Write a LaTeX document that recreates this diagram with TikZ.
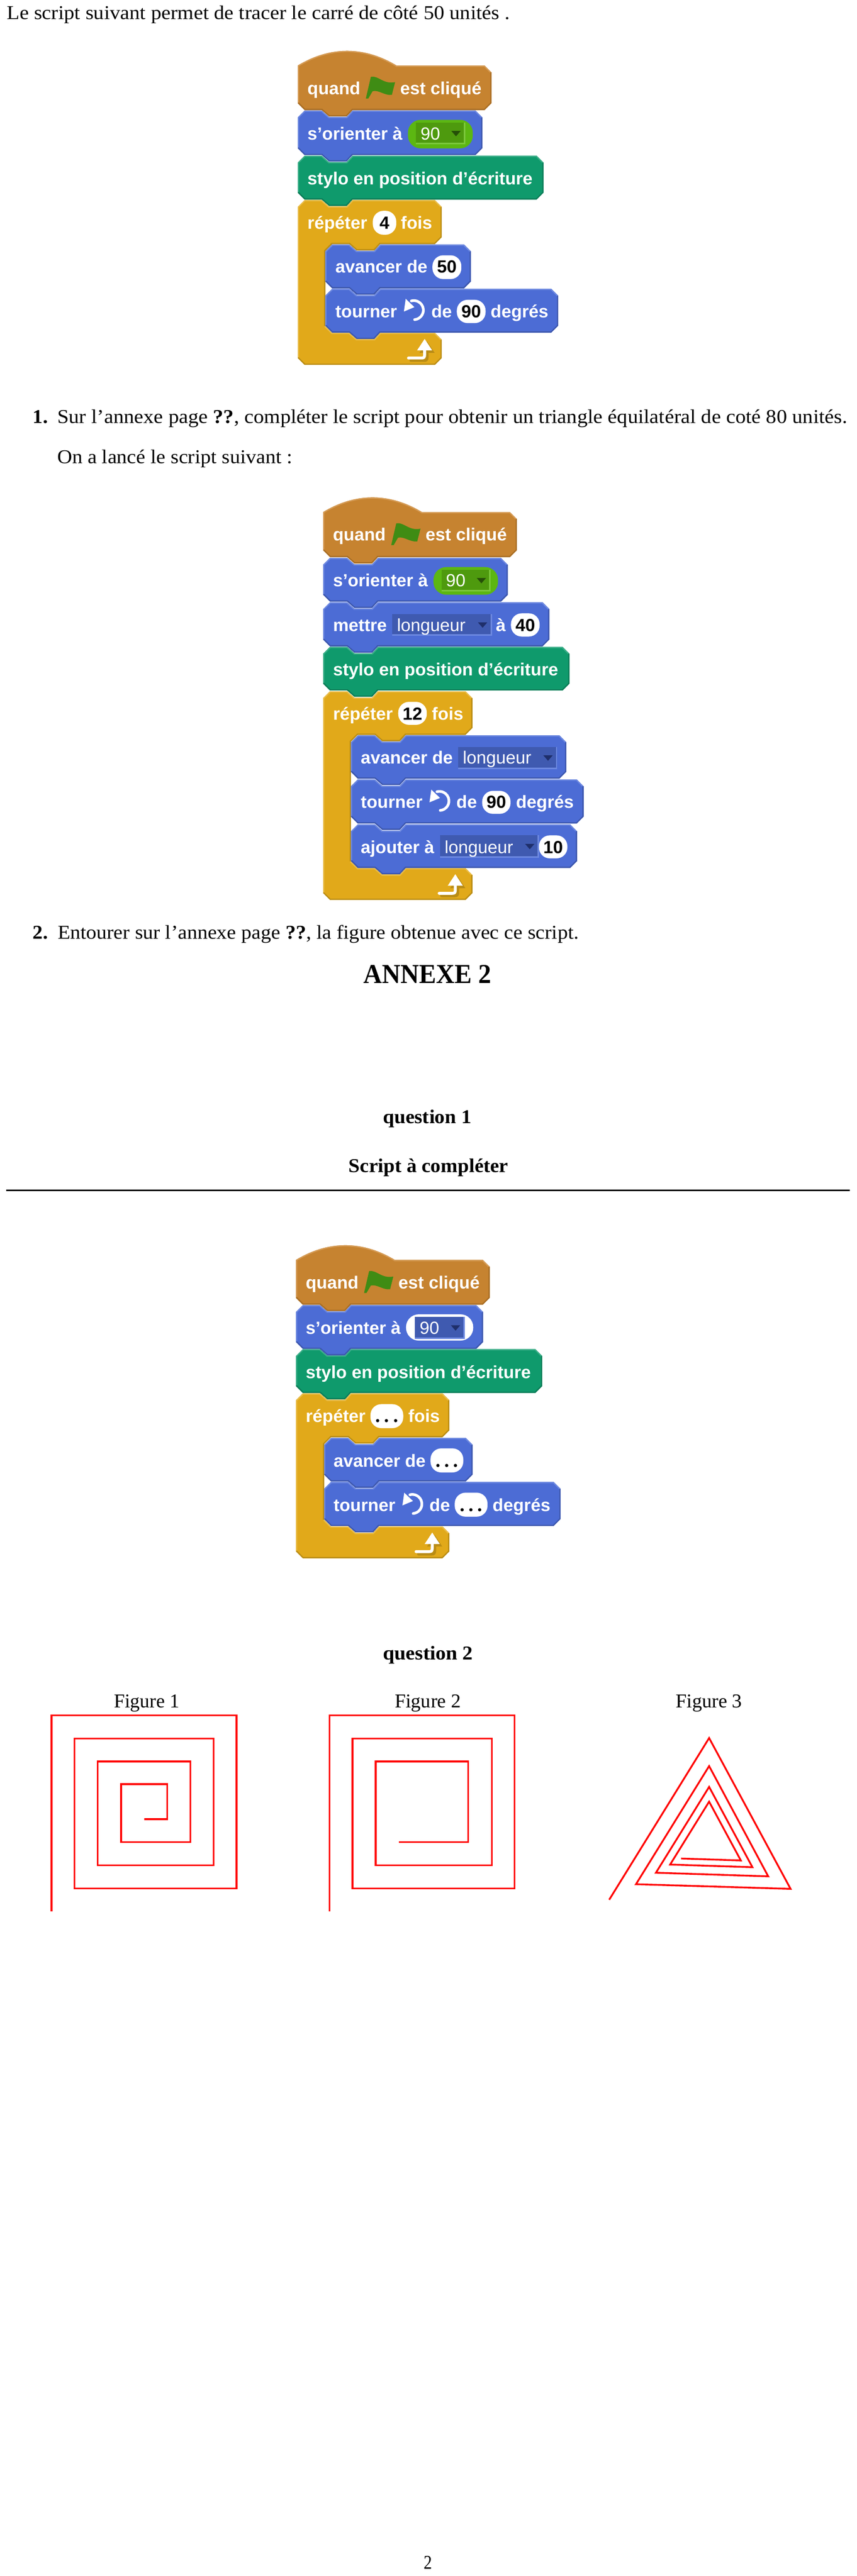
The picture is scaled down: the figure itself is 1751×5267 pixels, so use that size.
\documentclass[tikz,border=0pt]{standalone}
\usepackage{fontspec}
\usepackage{graphicx}
\setmainfont{Liberation Serif}
\newfontfamily\sansf{Liberation Sans}
\definecolor{hatc}{HTML}{C68330}\definecolor{hatl}{HTML}{D59B55}\definecolor{hatd}{HTML}{A86D24}
\definecolor{bluc}{HTML}{4C6CD5}\definecolor{blul}{HTML}{6C88E0}\definecolor{blud}{HTML}{3D57AD}
\definecolor{grnc}{HTML}{0F9A6C}\definecolor{grnl}{HTML}{3BAE88}\definecolor{grnd}{HTML}{0C7C57}
\definecolor{orac}{HTML}{E1A91A}\definecolor{oral}{HTML}{E9BC48}\definecolor{orad}{HTML}{B98C15}
\definecolor{flagc}{HTML}{3F8C14}\definecolor{pilc}{HTML}{5CB712}\definecolor{pill}{HTML}{7CC83C}\definecolor{pind}{HTML}{4E9A0E}
\definecolor{ddb}{HTML}{3F5AB0}\definecolor{tridb}{HTML}{1F2F6B}\definecolor{trigr}{HTML}{264F08}
\newcount\nodec
\tikzset{
  txtnode/.style={anchor=base west,inner sep=0pt,outer sep=0pt},
  ctrnode/.style={anchor=base,inner sep=0pt,outer sep=0pt},
  redline/.style={draw=red,line width=3.6pt,miter limit=10},
}
% page text: x, baseline, width, font size, text
\newcommand\ptxt[5]{\global\advance\nodec by 1
  \node[txtnode] (n\the\nodec) at (#1,#2) {\resizebox{#3pt}{\height}{\fontsize{#4pt}{#4pt}\selectfont #5}};}
% white bold sans text
\newcommand\stx[3]{\global\advance\nodec by 1
  \node[txtnode,text=white] (n\the\nodec) at (#1,#2) {\fontsize{36pt}{36pt}\selectfont\sansf\bfseries #3};}
\newcommand\srg[3]{\global\advance\nodec by 1
  \node[txtnode,text=white] (n\the\nodec) at (#1,#2) {\fontsize{36pt}{36pt}\selectfont\sansf #3};}
\newcommand\inp[6]{% x0,y0,x1,y1,baseline,text
  \fill[white,rounded corners=22pt] (#1,#2) rectangle (#3,#4);
  \global\advance\nodec by 1
  \node[ctrnode,text=black] (n\the\nodec) at ({(#1+#3)/2},#5) {\fontsize{36pt}{36pt}\selectfont\sansf\bfseries #6};}
\newcommand\dotinp[5]{% x0,y0,x1,y1,baseline
  \fill[white,rounded corners=22pt] (#1,#2) rectangle (#3,#4);
  \global\advance\nodec by 1
  \node[ctrnode,text=black] (n\the\nodec) at ({(#1+#3)/2},#5) {\fontsize{40pt}{40pt}\selectfont\bfseries .\hspace{8pt}.\hspace{8pt}.};}
\newcommand\blockpath[4]{(#1,{#2+14}) -- ({#1+14},#2) -- ({#1+49},#2) -- ({#1+64},{#2+13}) -- ({#1+100},{#2+13}) -- ({#1+112},#2) -- ({#3-14},#2) -- (#3,{#2+14}) -- (#3,{#4-14}) -- ({#3-14},#4) -- ({#1+112},#4) -- ({#1+100},{#4+13}) -- ({#1+64},{#4+13}) -- ({#1+49},#4) -- ({#1+14},#4) -- (#1,{#4-14}) -- cycle}
% left,top,right,bottom,prefix colour
\newcommand\sblk[5]{%
  \fill[#5c] \blockpath{#1}{#2}{#3}{#4};
  \begin{scope}
    \clip \blockpath{#1}{#2}{#3}{#4};
    \draw[#5l,line width=5pt] (#1,{#4-14}) -- (#1,{#2+14}) -- ({#1+14},#2) -- ({#1+49},#2) -- ({#1+64},{#2+13}) -- ({#1+100},{#2+13}) -- ({#1+112},#2) -- ({#3-14},#2) -- (#3,{#2+14});
    \draw[#5d,line width=5pt] (#3,{#2+14}) -- (#3,{#4-14}) -- ({#3-14},#4) -- ({#1+112},#4) -- ({#1+100},{#4+13}) -- ({#1+64},{#4+13}) -- ({#1+49},#4) -- ({#1+14},#4) -- (#1,{#4-14});
  \end{scope}}
% hat: left,shoulder,right,bottom
\newcommand\hatpath[4]{(#1,#2) .. controls ({#1+66},{#2-40}) and ({#1+136},{#2-40}) .. ({#1+202},#2) -- ({#3-14},#2) -- (#3,{#2+14}) -- (#3,{#4-14}) -- ({#3-14},#4) -- ({#1+112},#4) -- ({#1+100},{#4+13}) -- ({#1+64},{#4+13}) -- ({#1+49},#4) -- ({#1+14},#4) -- (#1,{#4-14}) -- cycle}
\newcommand\hatb[4]{%
  \fill[hatc] \hatpath{#1}{#2}{#3}{#4};
  \begin{scope}
    \clip \hatpath{#1}{#2}{#3}{#4};
    \draw[hatl,line width=5pt] (#1,{#4-14}) -- (#1,#2) .. controls ({#1+66},{#2-40}) and ({#1+136},{#2-40}) .. ({#1+202},#2) -- ({#3-14},#2) -- (#3,{#2+14});
    \draw[hatd,line width=5pt] (#3,{#2+14}) -- (#3,{#4-14}) -- ({#3-14},#4) -- ({#1+112},#4) -- ({#1+100},{#4+13}) -- ({#1+64},{#4+13}) -- ({#1+49},#4) -- ({#1+14},#4) -- (#1,{#4-14});
  \end{scope}
  \fill[flagc] ({#1+139.2},{#2+67.5}) -- ({#1+149.5},{#2+23}) .. controls ({#1+165},{#2+20}) and ({#1+175},{#2+39}) .. ({#1+199},{#2+34}) -- ({#1+192.4},{#2+60}) .. controls ({#1+178},{#2+62}) and ({#1+165},{#2+49}) .. ({#1+153},{#2+52.5}) -- ({#1+144.2},{#2+67.5}) -- cycle;
  \stx{#1+20}{#2+59}{quand}
  \stx{#1+209.5}{#2+59}{est cliqué}}
% C block: L,IL,R,T,B1,F,B
\newcommand\cpath[7]{(#1,{#4+14}) -- ({#1+14},#4) -- ({#1+49},#4) -- ({#1+64},{#4+13}) -- ({#1+100},{#4+13}) -- ({#1+112},#4) -- ({#3-14},#4) -- (#3,{#4+14}) -- (#3,{#5-14}) -- ({#3-14},#5) -- ({#2+112},#5) -- ({#2+100},{#5+13}) -- ({#2+64},{#5+13}) -- ({#2+49},#5) -- ({#2+14},#5) -- (#2,{#5+14}) -- (#2,{#6-14}) -- ({#2+14},#6) -- ({#2+49},#6) -- ({#2+64},{#6+13}) -- ({#2+100},{#6+13}) -- ({#2+112},#6) -- ({#3-14},#6) -- (#3,{#6+14}) -- (#3,{#7-14}) -- ({#3-14},#7) -- ({#1+14},#7) -- (#1,{#7-14}) -- cycle}
\newcommand\cblk[7]{%
  \fill[orac] \cpath{#1}{#2}{#3}{#4}{#5}{#6}{#7};
  \begin{scope}
    \clip \cpath{#1}{#2}{#3}{#4}{#5}{#6}{#7};
    \draw[oral,line width=5pt] (#1,{#7-14}) -- (#1,{#4+14}) -- ({#1+14},#4) -- ({#1+49},#4) -- ({#1+64},{#4+13}) -- ({#1+100},{#4+13}) -- ({#1+112},#4) -- ({#3-14},#4) -- (#3,{#4+14});
    \draw[orad,line width=5pt] (#3,{#4+14}) -- (#3,{#5-14}) -- ({#3-14},#5) -- ({#2+112},#5) -- ({#2+100},{#5+13}) -- ({#2+64},{#5+13}) -- ({#2+49},#5) -- ({#2+14},#5) -- (#2,{#5+14}) -- (#2,{#6-14});
    \draw[oral,line width=5pt] (#2,{#6-14}) -- ({#2+14},#6) -- ({#2+49},#6) -- ({#2+64},{#6+13}) -- ({#2+100},{#6+13}) -- ({#2+112},#6) -- ({#3-14},#6) -- (#3,{#6+14});
    \draw[orad,line width=5pt] (#3,{#6+14}) -- (#3,{#7-14}) -- ({#3-14},#7) -- ({#1+14},#7) -- (#1,{#7-14});
  \end{scope}
  % loop arrow: shadow then white
  \begin{scope}[shift={(5,5)}]
    \fill[orad] ({#3-35},{#6+12.5}) -- ({#3-19.5},{#6+36}) -- ({#3-50.5},{#6+36}) -- cycle;
    \draw[orad,line width=6pt,line cap=round] ({#3-35},{#6+34}) -- ({#3-35},{#6+45}) .. controls ({#3-35},{#6+50}) and ({#3-37},{#6+51.5}) .. ({#3-41},{#6+51.5}) -- ({#3-68},{#6+51.5});
  \end{scope}
  \fill[white] ({#3-35},{#6+12.5}) -- ({#3-19.5},{#6+36}) -- ({#3-50.5},{#6+36}) -- cycle;
  \draw[white,line width=6pt,line cap=round] ({#3-35},{#6+34}) -- ({#3-35},{#6+45}) .. controls ({#3-35},{#6+50}) and ({#3-37},{#6+51.5}) .. ({#3-41},{#6+51.5}) -- ({#3-68},{#6+51.5});}
% rotate icon: cx, baseline
\newcommand\rico[2]{%
  \draw[white,line width=5.5pt,line cap=round] ({#1+2},{#2+4.5}) arc[start angle=-85,end angle=105,radius=19.5pt];
  \fill[white] ({#1-16.3},{#2-38}) -- ({#1-20},{#2-12}) -- ({#1+1.5},{#2-21}) -- cycle;}
% dropdown: x0,y0,x1,y1,fill,edge, triangle colour
\newcommand\ddn[7]{%
  \fill[#5] (#1,#2) rectangle (#3,#4);
  \draw[#6,line width=3pt] (#1,#4) -- (#3,#4) -- (#3,#2);
  \fill[#7] ({#3-27},{(#2+#4)/2-4.5}) -- ({#3-8},{(#2+#4)/2-4.5}) -- ({#3-17.5},{(#2+#4)/2+6.5}) -- cycle;}
\begin{document}
\begin{tikzpicture}[x=1pt,y=-1pt]
\useasboundingbox[fill=white] (0,0) rectangle (1751,5267);
% page text
\ptxt{14}{40}{1028}{40}{Le script suivant permet de tracer le carré de côté 50 unités .}
\ptxt{67}{865}{31}{40}{\bfseries 1.}
\ptxt{117}{865}{1615}{40}{Sur l’annexe page \textbf{??}, compléter le script pour obtenir un triangle équilatéral de coté 80 unités.}
\ptxt{117}{947.5}{481}{40}{On a lancé le script suivant :}
\ptxt{67}{1920}{31}{40}{\bfseries 2.}
\ptxt{118}{1920}{1065}{40}{Entourer sur l’annexe page \textbf{??}, la figure obtenue avec ce script.}
\ptxt{743}{2010}{261}{56}{\bfseries ANNEXE 2}
\ptxt{783}{2297}{181}{40}{\bfseries question 1}
\ptxt{713}{2397}{326}{40}{\bfseries Script à compléter}
\ptxt{783}{3393}{184}{40}{\bfseries question 2}
\ptxt{233}{3491}{134}{40}{Figure 1}
\ptxt{807}{3491}{135}{40}{Figure 2}
\ptxt{1381}{3491}{136}{40}{Figure 3}
\ptxt{866}{5252.7}{17}{40}{2}
\coordinate (ruleA) at (13,2434);
\coordinate (ruleB) at (1737,2434);
\draw[black,line width=3.4pt] (ruleA) -- (ruleB);
%%% script 1
\cblk{608.6}{665}{903}{409}{499}{680.5}{746}
\sblk{665}{590.5}{1141}{680}{blu}
\sblk{665}{500}{962.5}{589.5}{blu}
\sblk{608.6}{318.4}{1111}{408}{grn}
\sblk{608.6}{226}{986}{317}{blu}
\hatb{608.6}{134}{1004.6}{225}
\stx{628.6}{286}{s’orienter à}
\fill[pilc,rounded corners=26pt] (833.9,245) rectangle (966.4,303.4);
\ddn{850.6}{251}{949.6}{293.5}{pind}{pill}{trigr}
\srg{859.7}{286}{90}
\stx{628.6}{378}{stylo en position d’écriture}
\stx{628.6}{468}{répéter}
\inp{762}{431}{810}{480}{468}{4}
\stx{819.5}{468}{fois}
\stx{685.6}{558}{avancer de}
\inp{884}{522}{943}{570.6}{558}{50}
\stx{685.6}{649}{tourner}
\rico{845.6}{649}
\stx{881.7}{649}{de}
\inp{933.8}{613}{992.6}{660.6}{649}{90}
\stx{1003}{649}{degrés}
%%% script 2
\cblk{660.5}{717.3}{965.7}{1413.4}{1502.4}{1775}{1840}
\sblk{717.3}{1685.5}{1179.6}{1774.5}{blu}
\sblk{717.3}{1593.7}{1193}{1683.8}{blu}
\sblk{717.3}{1503.5}{1157.6}{1592}{blu}
\sblk{660.5}{1322.7}{1164}{1411.7}{grn}
\sblk{660.5}{1231.4}{1123}{1321.6}{blu}
\sblk{660.5}{1140.7}{1038}{1230}{blu}
\hatb{660.5}{1047}{1056.5}{1139}
\stx{680.8}{1199}{s’orienter à}
\fill[pilc,rounded corners=26pt] (886,1159.5) rectangle (1018,1216);
\ddn{902.5}{1165}{1001.5}{1207.5}{pind}{pill}{trigr}
\srg{911.5}{1199}{90}
\stx{680.8}{1290.5}{mettre}
\ddn{802}{1255.5}{1004}{1298.6}{ddb}{blul}{tridb}
\srg{811.4}{1290.5}{longueur}
\stx{1013.8}{1290.5}{à}
\inp{1044.4}{1254}{1103}{1301.5}{1290.5}{40}
\stx{680.8}{1382}{stylo en position d’écriture}
\stx{680.8}{1472}{répéter}
\inp{814}{1435}{872.4}{1482}{1472}{12}
\stx{883}{1472}{fois}
\stx{737.6}{1562}{avancer de}
\ddn{936.7}{1527}{1137.7}{1571}{ddb}{blul}{tridb}
\srg{946}{1562}{longueur}
\stx{737.6}{1652.5}{tourner}
\rico{897.9}{1652.5}
\stx{933}{1652.5}{de}
\inp{985.6}{1617}{1043.6}{1664}{1652.5}{90}
\stx{1054.8}{1652.5}{degrés}
\stx{737.6}{1744.5}{ajouter à}
\ddn{899.3}{1708}{1100.4}{1752}{ddb}{blul}{tridb}
\srg{908.9}{1744.5}{longueur}
\inp{1101.7}{1708}{1159.7}{1755}{1744.5}{10}
%%% script 3
\cblk{605}{662.6}{918.5}{2849}{2938.5}{3121}{3186}
\sblk{662.6}{3030}{1145.7}{3120}{blu}
\sblk{662.6}{2940}{966}{3029}{blu}
\sblk{605}{2758.5}{1108.4}{2848}{grn}
\sblk{605}{2668.5}{987.4}{2758}{blu}
\hatb{605}{2576}{1001}{2667.6}
\stx{625}{2728}{s’orienter à}
\fill[white,rounded corners=26pt] (830,2687.3) rectangle (967.3,2741);
\ddn{848}{2692}{948.7}{2736.5}{ddb}{blul}{tridb}
\srg{857.8}{2728}{90}
\stx{625}{2818}{stylo en position d’écriture}
\stx{625}{2908}{répéter}
\dotinp{757.3}{2871}{824.3}{2920}{2908}
\stx{834.8}{2908}{fois}
\stx{682}{2999}{avancer de}
\dotinp{880}{2961.4}{947}{3010.6}{2999}
\stx{682}{3090}{tourner}
\rico{842.6}{3090}
\stx{877.9}{3090}{de}
\dotinp{929.5}{3052}{996.5}{3101}{3090}
\stx{1007}{3090}{degrés}
%%% spirals
\draw[redline] (105.2,3908) -- (105.2,3507) -- (483.4,3507) -- (483.4,3861.3) -- (152.4,3861.3) -- (152.4,3554.7) -- (436.9,3554.7) -- (436.9,3813.8) -- (199.6,3813.8) -- (199.6,3601.4) -- (389,3601.4) -- (389,3766.4) -- (247.4,3766.4) -- (247.4,3648) -- (341.8,3648) -- (341.8,3719.7) -- (294.6,3719.7);
\draw[redline] (673.5,3908) -- (673.5,3507) -- (1051.7,3507) -- (1051.7,3861.3) -- (720.7,3861.3) -- (720.7,3554.7) -- (1005.2,3554.7) -- (1005.2,3813.8) -- (767.9,3813.8) -- (767.9,3601.4) -- (957.3,3601.4) -- (957.3,3766.4) -- (815.7,3766.4);
\draw[redline] (1245.3,3884.2) -- (1449.5,3553.6) -- (1616,3862) -- (1300,3852.5) -- (1449.5,3611) -- (1570.3,3836.4) -- (1340.8,3829) -- (1449.5,3653.5) -- (1538,3817.7) -- (1369.8,3812.3) -- (1449.5,3683.7) -- (1514.3,3803.9) -- (1392.2,3800);
\end{tikzpicture}
\end{document}
